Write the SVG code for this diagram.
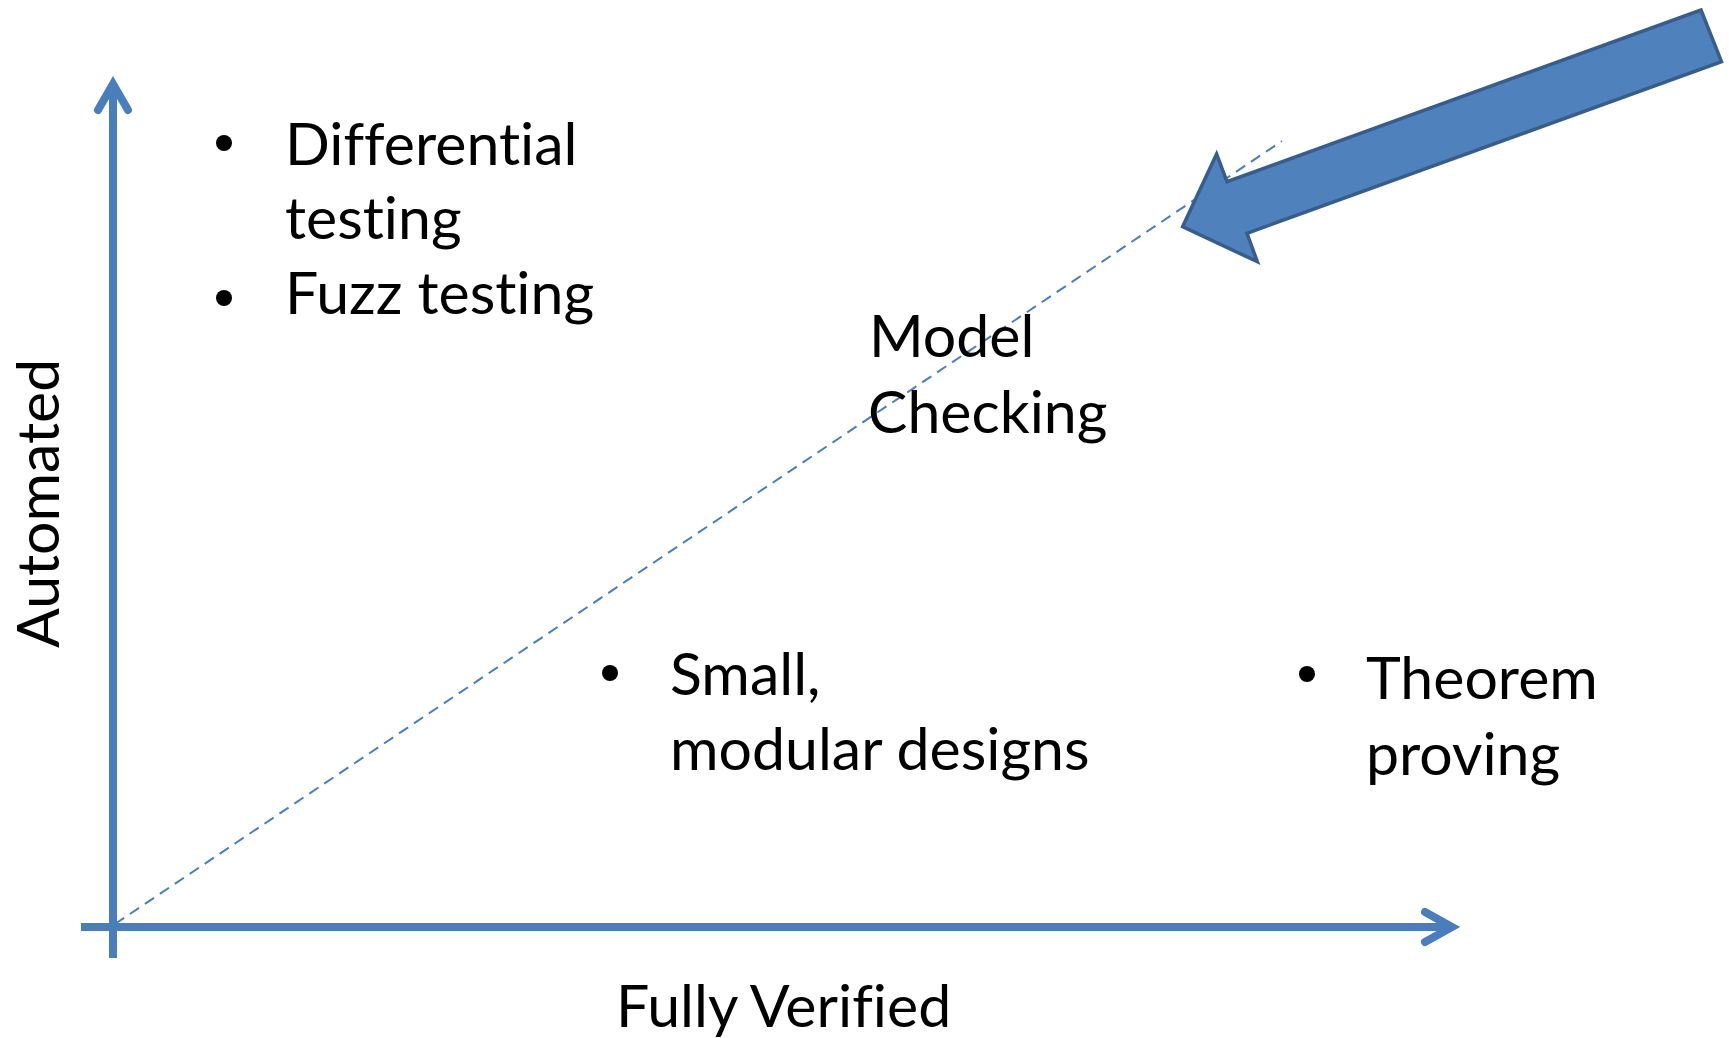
<svg xmlns="http://www.w3.org/2000/svg" width="1729" height="1038" viewBox="0 0 1729 1038">
<style>
.t{font-family:Lato,"Liberation Sans",sans-serif;font-size:59px;fill:#000;font-variant-ligatures:none;font-feature-settings:"liga" 0}
.ax{stroke:#4A7EBB;stroke-width:8;fill:none}
.ah{stroke:#4A7EBB;stroke-width:8;fill:none;stroke-linecap:round;stroke-linejoin:miter}
.b{fill:#000}
</style>
<rect width="1729" height="1038" fill="#fff"/>
<g id="connectors">
<line class="ax" x1="113" y1="958" x2="113" y2="86"/>
<polyline class="ah" points="98,110 113,84 128,110"/>
<line class="ax" x1="81" y1="927" x2="1450" y2="927"/>
<polyline class="ah" points="1425,912 1452,927 1425,942"/>
<line x1="115" y1="924" x2="1282" y2="141" stroke="#4A7EBB" stroke-width="2" stroke-dasharray="11 7"/>
</g>
<g id="pointer">
<polygon points="1701,10 1721.5,61.7 1247,233.3 1257.3,261.7 1182.6,226.7 1216.6,154 1227,181.7" fill="#4F81BD" stroke="#385D8A" stroke-width="3.5" stroke-linejoin="miter"/>
</g>
<g id="testing">
<circle class="b" cx="224" cy="143" r="8"/>
<text class="t" x="285" y="165">Differential</text>
<text class="t" x="285" y="239">testing</text>
<circle class="b" cx="224" cy="298" r="8"/>
<text class="t" x="285" y="314">Fuzz testing</text>
</g>
<g id="model-checking">
<text class="t" x="869" y="357">Model</text>
<text class="t" x="868" y="433">Checking</text>
</g>
<g id="small-modular">
<circle class="b" cx="610" cy="673" r="8"/>
<text class="t" x="670" y="695">Small,</text>
<text class="t" x="670" y="770">modular designs</text>
</g>
<g id="theorem">
<circle class="b" cx="1307" cy="674" r="8"/>
<text class="t" x="1366" y="699">Theorem</text>
<text class="t" x="1366" y="775">proving</text>
</g>
<g id="x-label">
<text class="t" x="616" y="1027">Fully Verified</text>
</g>
<g id="y-label">
<text class="t" transform="translate(59,648) rotate(-90)">Automated</text>
</g>
</svg>
